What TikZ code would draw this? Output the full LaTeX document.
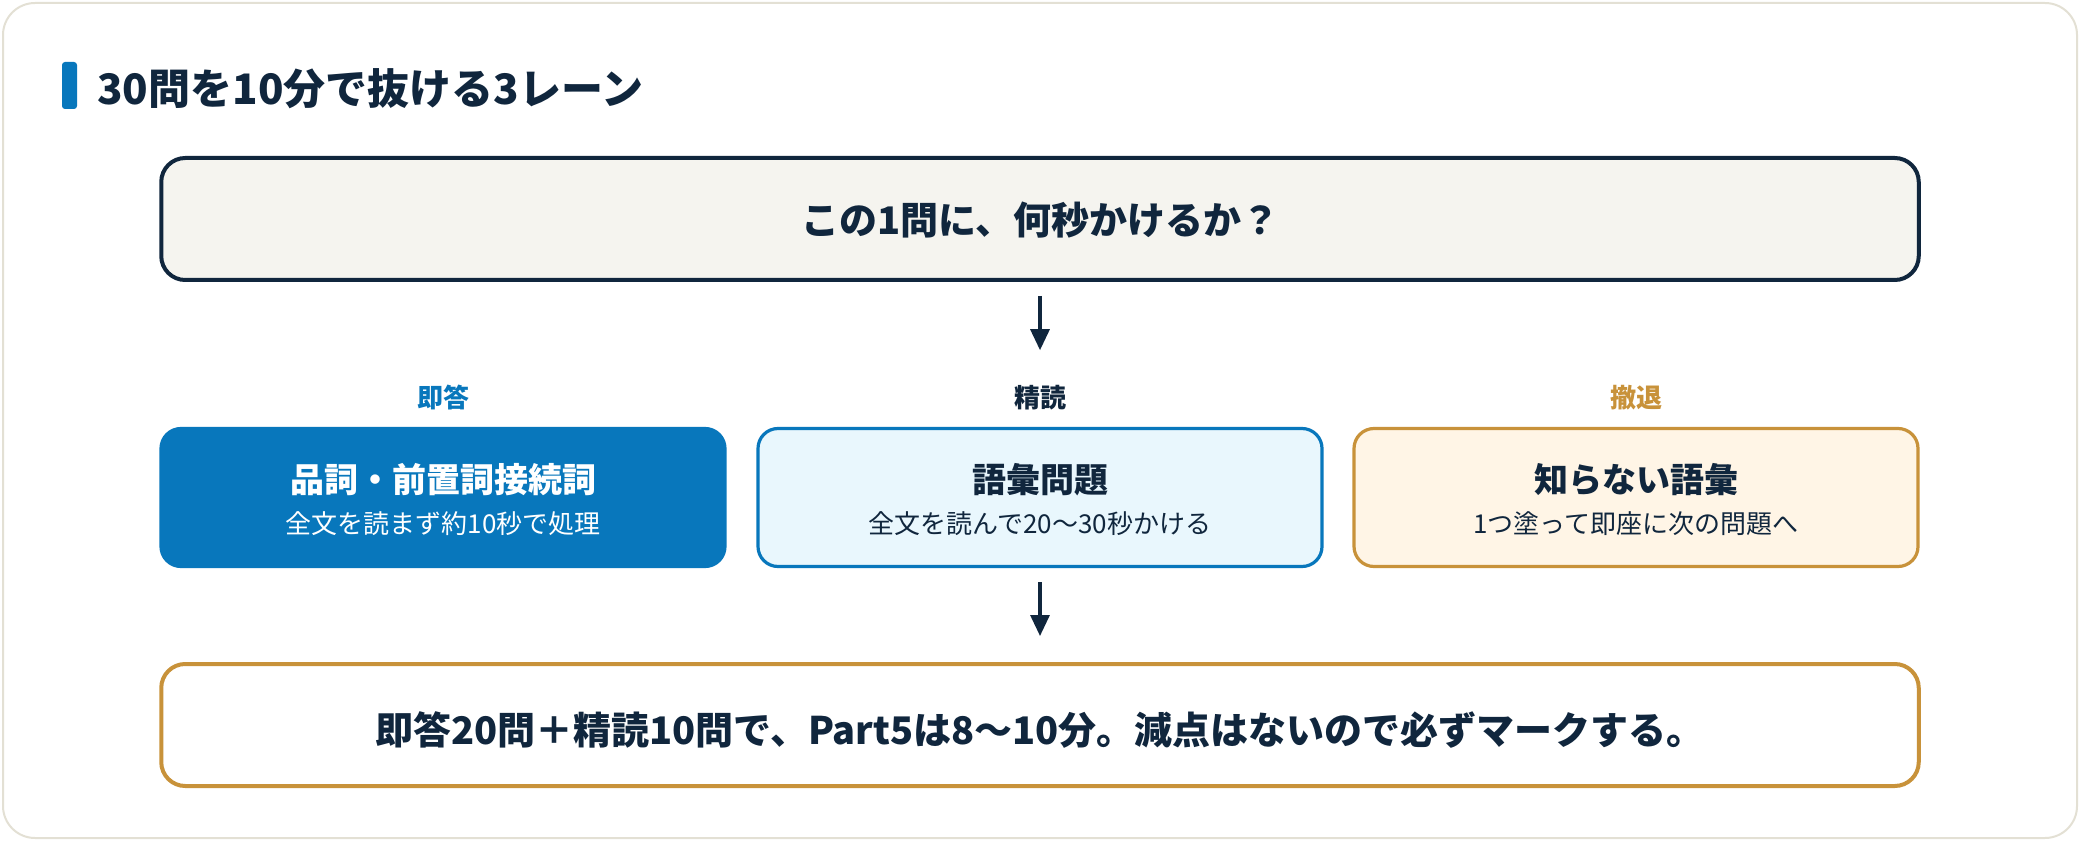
\documentclass[tikz,border=0pt]{standalone}
\usepackage{fontspec}
\setmainfont{Noto Sans CJK JP}
\usetikzlibrary{arrows.meta}
\usetikzlibrary{positioning}
\definecolor{navy}{HTML}{10263D}
\definecolor{laneblue}{HTML}{0877BC}
\definecolor{lanegold}{HTML}{C8923A}
\definecolor{paleblue}{HTML}{E9F7FD}
\definecolor{cream}{HTML}{FFF5E6}
\definecolor{paper}{HTML}{F5F4EF}
\definecolor{cardline}{HTML}{E3E0D4}

\begin{document}
\begin{tikzpicture}
	[x=0.5pt,y=0.5pt,every node/.style={inner sep=0pt,text=navy},
	 lanebox/.style={rounded corners=10pt,line width=1.6pt,minimum width=282pt,minimum height=69pt},
	 widebox/.style={rounded corners=12pt,line width=2pt,minimum width=878.75pt,minimum height=61pt},
	 lanehead/.style={font=\bfseries\fontsize{13}{15}\selectfont},
	 boxhead/.style={font=\bfseries\fontsize{17}{20}\selectfont},
	 boxsub/.style={font=\fontsize{13}{15}\selectfont},
	 flow/.style={line width=1.6pt,draw=navy,-{Triangle[length=10.5pt,width=9.5pt]}}]
	\useasboundingbox (0,0) rectangle (2080,842);
	\draw[draw=cardline,fill=white,line width=1pt,rounded corners=16pt] (3,4) rectangle (2077,839);
	
	\node[fill=laneblue,rounded corners=1.5pt,minimum width=7.5pt,minimum height=23.5pt] (bar) at (69.5,756.5) {};
	\node[anchor=west,font=\bfseries\fontsize{21}{25}\selectfont] (title) at (97,753) {30問を10分で抜ける3レーン};
	
	\node[widebox,draw=navy,fill=paper] (top) at (1040,623) {};
	\node[font=\bfseries\fontsize{19}{22}\selectfont] (ask) at (1040,622) {この1問に、何秒かけるか？};
	
	\node[lanehead,text=laneblue] (head1) at (443,444) {即答};
	\node[lanehead] (head2) at (1040,444) {精読};
	\node[lanehead,text=lanegold] (head3) at (1636,444) {撤退};
	
	\node[lanebox,draw=laneblue,fill=laneblue] (lane1) at (443,344.5) {};
	\node[lanebox,draw=laneblue,fill=paleblue] (lane2) at (1040,344.5) {};
	\node[lanebox,draw=lanegold,fill=cream] (lane3) at (1636,344.5) {};
	
	\node[boxhead,text=white] (name1) at (443,362) {品詞・前置詞接続詞};
	\node[boxsub,text=white] (note1) at (443,318) {全文を読まず約10秒で処理};
	\node[boxhead] (name2) at (1040,362) {語彙問題};
	\node[boxsub] (note2) at (1040,318) {全文を読んで20〜30秒かける};
	\node[boxhead] (name3) at (1636,362) {知らない語彙};
	\node[boxsub] (note3) at (1636,318) {1つ塗って即座に次の問題へ};
	
	\node[widebox,draw=lanegold,fill=white] (bottom) at (1040,117) {};
	\node[font=\bfseries\fontsize{19}{22}\selectfont] (sum) at (1040,112) {即答20問＋精読10問で、Part5は8〜10分。減点はないので必ずマークする。};
	
	\foreach \from/\to/\gap in 
	{top.south/head2.north/17.5pt, lane2.south/bottom.north/13pt}
	\draw[flow,shorten <=7pt,shorten >=\gap] (\from) -- (\to);
\end{tikzpicture}
\end{document}
